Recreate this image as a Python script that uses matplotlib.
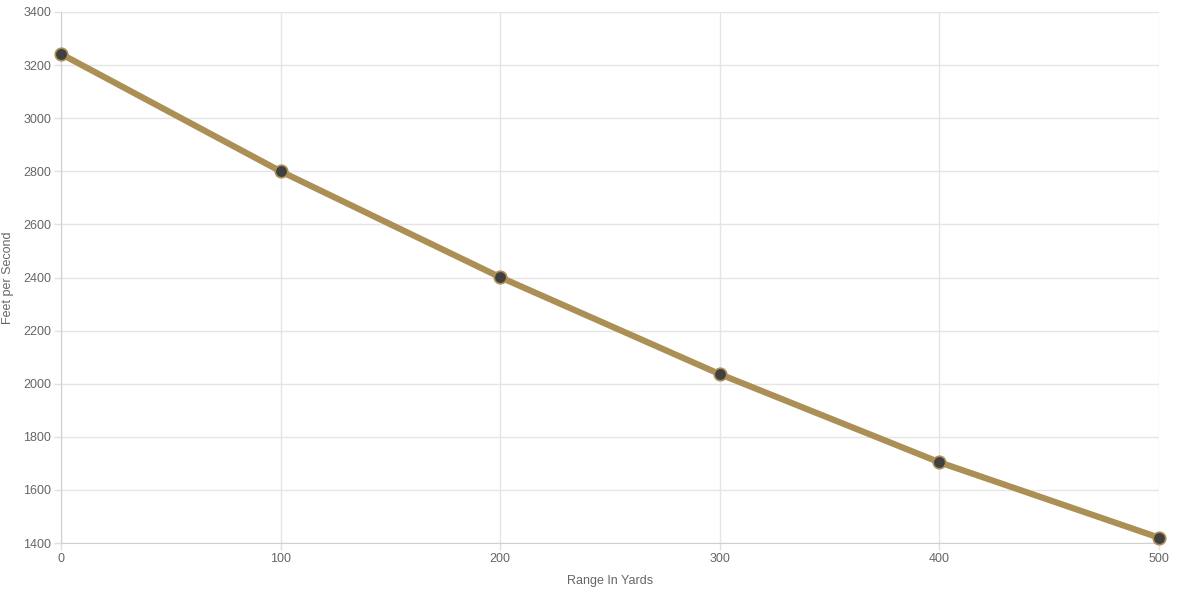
import matplotlib
matplotlib.use("Agg")
import matplotlib.pyplot as plt

x_range = [0, 100, 200, 300, 400, 500]
fps = [3242, 2800, 2401, 2036, 1704, 1420]
x_ticks = [0, 100, 200, 300, 400, 500]
y_ticks = [1400, 1600, 1800, 2000, 2200, 2400, 2600, 2800, 3000, 3200, 3400]

plt.rcParams['font.family'] = ['Liberation Sans', 'DejaVu Sans']
W, H = 1180, 604
fig = plt.figure(figsize=(W/100, H/100), dpi=100)
ax = fig.add_axes([61/W, 1 - 543/H, (1159-61)/W, (543-12)/H])

ax.plot(x_range, fps, color='#AB8F55', lw=4.5, solid_capstyle='round', zorder=3,
        marker='o', markersize=9, markerfacecolor='#404040', markeredgecolor='#AB8F55',
        markeredgewidth=1.2, clip_on=False)

ax.set_xlim(0, 500)
ax.set_ylim(1400, 3400)
ax.set_xticks(x_ticks)
ax.set_yticks(y_ticks)
ax.grid(True, color='#e5e5e5', lw=1)
for s in ['top', 'right']:
    ax.spines[s].set_visible(False)
for s in ['left', 'bottom']:
    ax.spines[s].set_color('#d0d0d0')
ax.tick_params(colors='#666666', labelsize=9, length=5, width=1, pad=2)
ax.tick_params(axis='both', color='#e0e0e0')
ax.set_xlabel('Range In Yards', color='#666666', fontsize=9)
ax.set_ylabel('Feet per Second', color='#666666', fontsize=9)
ax.xaxis.set_label_coords(610/W, 1 - 581/H, transform=fig.transFigure)
ax.yaxis.set_label_coords(8/W, 0.5 * (1 - 543/H) + 0.5 * (1 - 12/H), transform=fig.transFigure)
ax.xaxis.label.set_va('center')
ax.yaxis.label.set_va('center')
for lab in ax.get_xticklabels() + ax.get_yticklabels():
    lab.set_color('#666666')
fig.savefig('out.png', dpi=100)
